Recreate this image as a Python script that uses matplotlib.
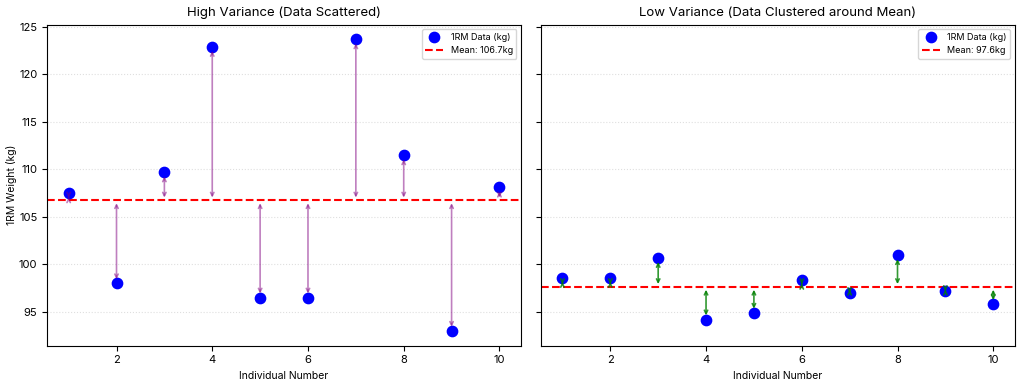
import matplotlib.pyplot as plt
import numpy as np

plt.rcParams['font.family'] = ['Inter', 'DejaVu Sans']

individuals = np.arange(1, 11)
high_var = [107.5, 98.0, 109.7, 122.9, 96.5, 96.5, 123.7, 111.5, 93.0, 108.1]
low_var = [98.6, 98.6, 100.7, 94.2, 94.9, 98.4, 97.0, 101.0, 97.2, 95.8]

fig, axes = plt.subplots(1, 2, figsize=(10.24, 3.84), dpi=100, sharey=True)
plt.subplots_adjust(left=0.046, right=0.991, top=0.936, bottom=0.1, wspace=0.042)

panels = [
    (axes[0], high_var, 'High Variance (Data Scattered)', 'purple'),
    (axes[1], low_var, 'Low Variance (Data Clustered around Mean)', 'green'),
]

for ax, data, title, arrow_col in panels:
    mean = np.mean(data)
    ax.scatter(individuals, data, color='blue', s=55, zorder=3, label='1RM Data (kg)')
    ax.axhline(mean, color='red', linestyle='--', linewidth=1.5, label=f'Mean: {mean:.1f}kg')
    for x, y in zip(individuals, data):
        ax.annotate('', xy=(x, y), xytext=(x, mean),
                    arrowprops=dict(arrowstyle='<->', color=arrow_col,
                                    alpha=0.5 if arrow_col == 'purple' else 0.8,
                                    lw=1.2, mutation_scale=6, shrinkA=2, shrinkB=3))
    ax.set_title(title, fontsize=9.5)
    ax.set_xlabel('Individual Number', fontsize=7.5)
    ax.grid(axis='y', linestyle=':', alpha=0.4)
    ax.tick_params(labelsize=8)
    ax.legend(loc='upper right', fontsize=6.5)

axes[0].set_ylabel('1RM Weight (kg)', fontsize=7.5, labelpad=1)

plt.savefig('out.png', dpi=100)
